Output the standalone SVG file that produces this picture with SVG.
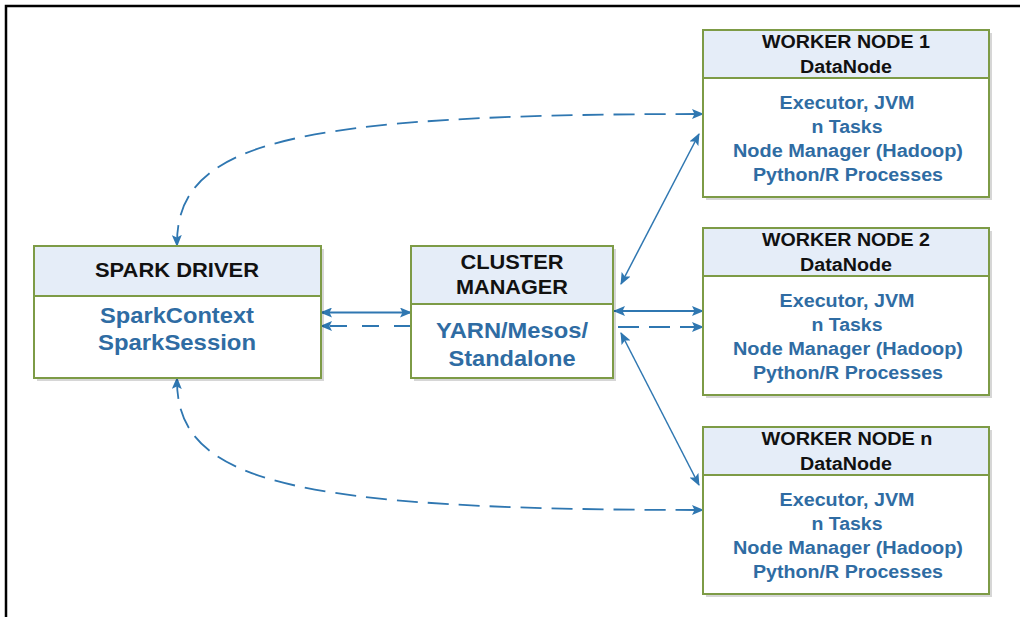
<svg xmlns="http://www.w3.org/2000/svg" width="1020" height="617" viewBox="0 0 1020 617">
<style>
.frame{fill:none;stroke:#000;stroke-width:2.5}
.shadow{fill:#000;opacity:.16}
.body{fill:#fff;stroke:#7d9b46;stroke-width:2}
.hdr{fill:#e5edf8;stroke:#7d9b46;stroke-width:2}
text{font-family:"Liberation Sans",Arial,sans-serif;font-weight:bold;text-anchor:middle}
.t{fill:#111}
.b{fill:#2f6ca3}
.ht{font-size:20px}
.bt{font-size:22px}
.wt{font-size:18px}
.c{fill:none;stroke:#2f77b1;stroke-width:1.8}
.d{stroke-dasharray:21 10}
.thin{stroke-width:1.5}
</style>
<defs>
<marker id="ah" viewBox="0 0 12 10" refX="11" refY="5" markerWidth="12" markerHeight="10" markerUnits="userSpaceOnUse" orient="auto-start-reverse">
<path d="M0,0 L12,5 L0,10 L2.5,5 z" fill="#2f77b1"/>
</marker>
</defs>
<rect class="frame" x="6" y="6" width="1100" height="700"/>
<g id="connectors">
<path class="c" d="M321 312.5 L411 312.5" marker-start="url(#ah)" marker-end="url(#ah)"/>
<path class="c" d="M411 326 L321 326" style="stroke-dasharray:17 15" marker-end="url(#ah)"/>
<path class="c" d="M614 311 L703 311" marker-start="url(#ah)" marker-end="url(#ah)"/>
<path class="c d" d="M618 327 L703 327" marker-end="url(#ah)"/>
<path class="c thin" d="M621 284 L699 134" marker-start="url(#ah)" marker-end="url(#ah)"/>
<path class="c thin" d="M621 333 L699 485" marker-start="url(#ah)" marker-end="url(#ah)"/>
<path class="c d" d="M177 246 C175 142 290 114 703 114" marker-start="url(#ah)" marker-end="url(#ah)"/>
<path class="c d" d="M177 378 C175 482 290 510 703 510" marker-start="url(#ah)" marker-end="url(#ah)"/>
</g>
<g id="spark-driver">
<rect class="shadow" x="37" y="249" width="287" height="132"/>
<rect class="body" x="34" y="246" width="287" height="132"/>
<rect class="hdr" x="34" y="246" width="287" height="50"/>
<text class="t ht" x="177" y="277" textLength="164" lengthAdjust="spacingAndGlyphs">SPARK DRIVER</text>
<text class="b bt" x="177" y="323" textLength="154" lengthAdjust="spacingAndGlyphs">SparkContext</text>
<text class="b bt" x="177" y="350" textLength="158" lengthAdjust="spacingAndGlyphs">SparkSession</text>
</g>
<g id="cluster-manager">
<rect class="shadow" x="414" y="249" width="202" height="132"/>
<rect class="body" x="411" y="246" width="202" height="132"/>
<rect class="hdr" x="411" y="246" width="202" height="58"/>
<text class="t ht" x="512" y="269" textLength="103" lengthAdjust="spacingAndGlyphs">CLUSTER</text>
<text class="t ht" x="512" y="294" textLength="112" lengthAdjust="spacingAndGlyphs">MANAGER</text>
<text class="b bt" x="512" y="338" textLength="152" lengthAdjust="spacingAndGlyphs">YARN/Mesos/</text>
<text class="b bt" x="512" y="366" textLength="127" lengthAdjust="spacingAndGlyphs">Standalone</text>
</g>
<g id="worker-1">
<rect class="shadow" x="706" y="33" width="286" height="167"/>
<rect class="body" x="703" y="30" width="286" height="167"/>
<rect class="hdr" x="703" y="30" width="286" height="48"/>
<text class="t wt" x="846" y="48" textLength="168" lengthAdjust="spacingAndGlyphs">WORKER NODE 1</text>
<text class="t wt" x="846" y="73" textLength="92" lengthAdjust="spacingAndGlyphs">DataNode</text>
<text class="b wt" x="847" y="109" textLength="135" lengthAdjust="spacingAndGlyphs">Executor, JVM</text>
<text class="b wt" x="847" y="133" textLength="71" lengthAdjust="spacingAndGlyphs">n Tasks</text>
<text class="b wt" x="848" y="157" textLength="230" lengthAdjust="spacingAndGlyphs">Node Manager (Hadoop)</text>
<text class="b wt" x="848" y="181" textLength="190" lengthAdjust="spacingAndGlyphs">Python/R Processes</text>
</g>
<g id="worker-2">
<rect class="shadow" x="706" y="231" width="286" height="167"/>
<rect class="body" x="703" y="228" width="286" height="167"/>
<rect class="hdr" x="703" y="228" width="286" height="48"/>
<text class="t wt" x="846" y="246" textLength="168" lengthAdjust="spacingAndGlyphs">WORKER NODE 2</text>
<text class="t wt" x="846" y="271" textLength="92" lengthAdjust="spacingAndGlyphs">DataNode</text>
<text class="b wt" x="847" y="307" textLength="135" lengthAdjust="spacingAndGlyphs">Executor, JVM</text>
<text class="b wt" x="847" y="331" textLength="71" lengthAdjust="spacingAndGlyphs">n Tasks</text>
<text class="b wt" x="848" y="355" textLength="230" lengthAdjust="spacingAndGlyphs">Node Manager (Hadoop)</text>
<text class="b wt" x="848" y="379" textLength="190" lengthAdjust="spacingAndGlyphs">Python/R Processes</text>
</g>
<g id="worker-n">
<rect class="shadow" x="706" y="430" width="286" height="167"/>
<rect class="body" x="703" y="427" width="286" height="167"/>
<rect class="hdr" x="703" y="427" width="286" height="48"/>
<text class="t wt" x="847" y="445" textLength="171" lengthAdjust="spacingAndGlyphs">WORKER NODE n</text>
<text class="t wt" x="846" y="470" textLength="92" lengthAdjust="spacingAndGlyphs">DataNode</text>
<text class="b wt" x="847" y="506" textLength="135" lengthAdjust="spacingAndGlyphs">Executor, JVM</text>
<text class="b wt" x="847" y="530" textLength="71" lengthAdjust="spacingAndGlyphs">n Tasks</text>
<text class="b wt" x="848" y="554" textLength="230" lengthAdjust="spacingAndGlyphs">Node Manager (Hadoop)</text>
<text class="b wt" x="848" y="578" textLength="190" lengthAdjust="spacingAndGlyphs">Python/R Processes</text>
</g>
</svg>
